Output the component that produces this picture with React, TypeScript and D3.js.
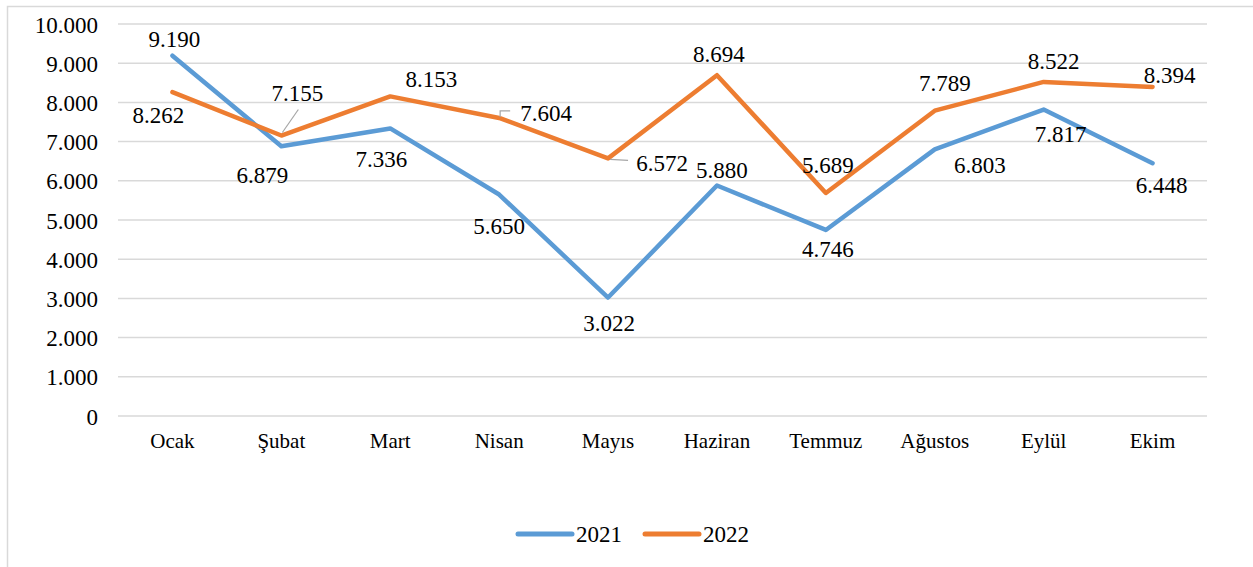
import React from "react";
import * as d3 from "d3";

const months = ["Ocak", "Şubat", "Mart", "Nisan", "Mayıs", "Haziran", "Temmuz", "Ağustos", "Eylül", "Ekim"];
const values2021 = [9190, 6879, 7336, 5650, 3022, 5880, 4746, 6803, 7817, 6448];
const values2022 = [8262, 7155, 8153, 7604, 6572, 8694, 5689, 7789, 8522, 8394];
const yTicks = [0, 1000, 2000, 3000, 4000, 5000, 6000, 7000, 8000, 9000, 10000];

// where each data label sits (centre of the text, relative to its point)
const labelPos2021 = [[2, -16], [-19, 29], [-9, 31], [0, 32], [1, 26], [5, -15], [2, 19], [45, 16], [17, 25], [9, 22]];
const labelPos2022 = [[-14, 23], [16, -42], [41, -17], [47, -5], [54, 5], [2, -21], [2, -28], [10, -27], [10, -21], [17, -12]];
// leader lines drawn by Excel when a label was moved away
const leaders2022: Record<number, number[][]> = {
  1: [[1, -3], [17, -26]],
  3: [[1, -1], [1, -7], [11, -7]],
  4: [[2, 1], [20, 2]],
};

const W = 1253;
const H = 567;
const M = { left: 118, right: 46, top: 24, bottom: 151 };

const colors = { s2021: "#5B9BD5", s2022: "#ED7D31", grid: "#D9D9D9", leader: "#A6A6A6", text: "#000" };
const FONT = "'Liberation Serif', 'Times New Roman', serif";

const trLocale = d3.formatLocale({ decimal: ",", thousands: ".", grouping: [3], currency: ["", "₺"] });
const fmt = trLocale.format(",");

const App = () => {
  const x = d3.scaleBand().domain(months).range([M.left, W - M.right]);
  const y = d3.scaleLinear().domain([0, 10000]).range([H - M.bottom, M.top]);
  const cx = (m: string) => (x(m) as number) + x.bandwidth() / 2;

  const line = d3
    .line<number>()
    .x((_, i) => cx(months[i]))
    .y((d) => y(d));

  const series = [
    { name: "2021", values: values2021, color: colors.s2021, pos: labelPos2021 },
    { name: "2022", values: values2022, color: colors.s2022, pos: labelPos2022 },
  ];

  return (
    <div style={{ position: "absolute", left: 0, top: 0 }}>
      <svg width={W} height={H} style={{ display: "block", fontFamily: FONT }}>
        <rect x={0} y={0} width={W} height={H} fill="#fff" />
        <rect x={7.5} y={6.5} width={W + 20} height={H + 20} fill="none" stroke={colors.grid} strokeWidth={1.5} />

        {yTicks.map((t) => (
          <g key={t}>
            <line x1={M.left} x2={W - M.right} y1={y(t)} y2={y(t)} stroke={colors.grid} strokeWidth={1.5} />
            <text x={98} y={y(t) + 8.5} textAnchor="end" fontSize={23} fill={colors.text}>
              {fmt(t)}
            </text>
          </g>
        ))}

        {months.map((m) => (
          <text key={m} x={cx(m)} y={H - M.bottom + 32} textAnchor="middle" fontSize={21} fill={colors.text}>
            {m}
          </text>
        ))}

        {series.map((s) => (
          <path
            key={s.name}
            d={line(s.values) as string}
            fill="none"
            stroke={s.color}
            strokeWidth={4.5}
            strokeLinejoin="round"
            strokeLinecap="round"
          />
        ))}

        {Object.entries(leaders2022).map(([k, pts]) => {
          const i = +k;
          const px = cx(months[i]);
          const py = y(values2022[i]);
          return (
            <polyline
              key={k}
              points={pts.map(([dx, dy]) => `${px + dx},${py + dy}`).join(" ")}
              fill="none"
              stroke={colors.leader}
              strokeWidth={1.2}
            />
          );
        })}

        {series.map((s) =>
          s.values.map((v, i) => (
            <text
              key={s.name + i}
              x={cx(months[i]) + s.pos[i][0]}
              y={y(v) + s.pos[i][1] + 7.6}
              textAnchor="middle"
              fontSize={23}
              fill={colors.text}
            >
              {fmt(v)}
            </text>
          ))
        )}

        {series.map((s, i) => {
          const lx = 518 + i * 127;
          return (
            <g key={s.name}>
              <line x1={lx} x2={lx + 54} y1={534} y2={534} stroke={s.color} strokeWidth={5} strokeLinecap="round" />
              <text x={lx + 58} y={542} fontSize={23} fill={colors.text}>
                {s.name}
              </text>
            </g>
          );
        })}
      </svg>
    </div>
  );
};

export default App;
